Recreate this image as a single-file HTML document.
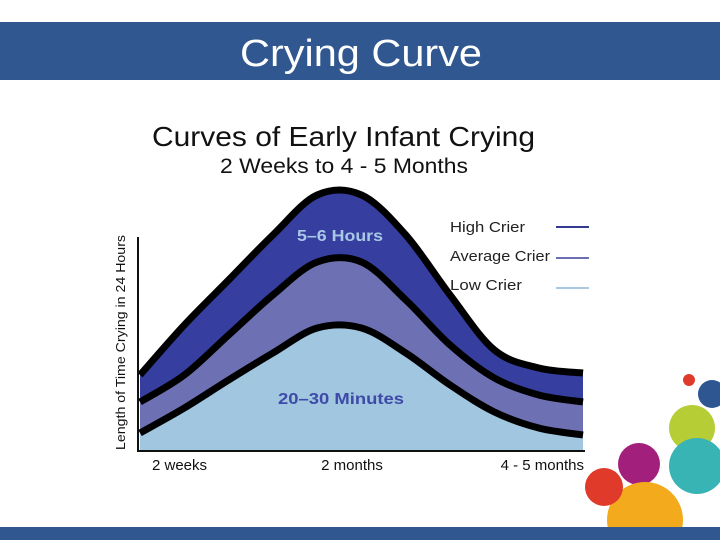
<!DOCTYPE html>
<html><head><meta charset="utf-8"><style>
html,body{margin:0;padding:0;background:#fff;}
svg{display:block;font-family:"Liberation Sans",Arial,sans-serif;}
</style></head><body>
<svg id="chart" width="720" height="540" viewBox="0 0 720 540">
<rect x="0" y="22" width="720" height="58" fill="#30578f"/>
<text x="240" y="66" font-size="38" fill="#fff" textLength="242" lengthAdjust="spacingAndGlyphs">Crying Curve</text>
<text x="152" y="146" font-size="28" fill="#111" textLength="383" lengthAdjust="spacingAndGlyphs">Curves of Early Infant Crying</text>
<text x="220" y="173" font-size="21" fill="#111" textLength="248" lengthAdjust="spacingAndGlyphs">2 Weeks to 4 - 5 Months</text>
<g id="plot"></g>
<line x1="138" y1="237" x2="138" y2="452" stroke="#111" stroke-width="2"/>
<line x1="137" y1="451" x2="585" y2="451" stroke="#111" stroke-width="2"/>
<text transform="translate(125,450) rotate(-90)" font-size="12.5" fill="#111" textLength="215" lengthAdjust="spacingAndGlyphs">Length of Time Crying in 24 Hours</text>
<g id="xticks"></g>
<text x="297" y="241" font-size="16" font-weight="bold" fill="#a9c8e6" textLength="86" lengthAdjust="spacingAndGlyphs">5–6 Hours</text>
<text x="278" y="404" font-size="16" font-weight="bold" fill="#3f4aa8" textLength="126" lengthAdjust="spacingAndGlyphs">20–30 Minutes</text>
<g>
<text x="450" y="232" font-size="15" fill="#222" textLength="75" lengthAdjust="spacingAndGlyphs">High Crier</text>
<line x1="556" y1="227" x2="589" y2="227" stroke="#343a90" stroke-width="2"/>
<text x="450" y="261" font-size="15" fill="#222" textLength="100" lengthAdjust="spacingAndGlyphs">Average Crier</text>
<line x1="556" y1="258" x2="589" y2="258" stroke="#6b70b3" stroke-width="2"/>
<text x="450" y="290" font-size="15" fill="#222" textLength="72" lengthAdjust="spacingAndGlyphs">Low Crier</text>
<line x1="556" y1="288" x2="589" y2="288" stroke="#a9c9e3" stroke-width="2"/>
</g>
<g>
<circle cx="689" cy="380" r="6" fill="#e03a2c"/>
<circle cx="712" cy="394" r="14" fill="#2e5691"/>
<circle cx="692" cy="428" r="23" fill="#b6cd36"/>
<circle cx="697" cy="466" r="28" fill="#38b4b4"/>
<circle cx="639" cy="464" r="21" fill="#a31f7c"/>
<circle cx="645" cy="520" r="38" fill="#f3aa1c"/>
<circle cx="604" cy="487" r="19" fill="#df3a2a"/>
</g>
<rect x="0" y="527" width="720" height="13" fill="#30578f"/>
</svg>
<script>
const categories=[0,1,2,3,4,5,6,7,8,9,10];
const highCrier=[75,125,170,215,255,255,215,155,100,82,77];
const averageCrier=[48,75,115,155,188,188,150,105,72,55,48];
const lowCrier=[17,42,70,97,122,122,97,65,38,22,15];
const xTickLabels=["2 weeks","2 months","4 - 5 months"];
const xTickCats=[0,5,10];

const NS="http://www.w3.org/2000/svg";
function xScale(c){return 140+(c-0)/(10-0)*(583-140);}
function yScale(v){return 450-v;}
function smoothPath(vals){
  const p=categories.map((c,i)=>[xScale(c),yScale(vals[i])]);
  let d="M"+p[0][0]+","+p[0][1];
  for(let i=0;i<p.length-1;i++){
    const p0=p[Math.max(0,i-1)],p1=p[i],p2=p[i+1],p3=p[Math.min(p.length-1,i+2)];
    const c1x=p1[0]+(p2[0]-p0[0])/6,c1y=p1[1]+(p2[1]-p0[1])/6;
    const c2x=p2[0]-(p3[0]-p1[0])/6,c2y=p2[1]-(p3[1]-p1[1])/6;
    d+=" C"+c1x+","+c1y+" "+c2x+","+c2y+" "+p2[0]+","+p2[1];
  }
  return d;
}
const plot=document.getElementById("plot");
const series=[[highCrier,"#363f9f","high-crier"],[averageCrier,"#6d71b3","average-crier"],[lowCrier,"#a0c6e0","low-crier"]];
series.forEach(s=>{
  const line=smoothPath(s[0]);
  const area=document.createElementNS(NS,"path");
  area.setAttribute("d",line+" L"+xScale(10)+","+yScale(0)+" L"+xScale(0)+","+yScale(0)+" Z");
  area.setAttribute("fill",s[1]);
  
  
  plot.appendChild(area);
});
series.forEach(s=>{
  const ln=document.createElementNS(NS,"path");
  ln.setAttribute("d",smoothPath(s[0]));
  ln.setAttribute("fill","none");
  ln.setAttribute("stroke","#000");
  ln.setAttribute("stroke-width","7");
  
  
  plot.appendChild(ln);
});
const xt=document.getElementById("xticks");
xTickLabels.forEach((t,i)=>{
  const el=document.createElementNS(NS,"text");
  const c=xTickCats[i];
  el.setAttribute("x",xScale(c));
  el.setAttribute("y",470);
  el.setAttribute("font-size","15");
  el.setAttribute("fill","#111");
  el.setAttribute("text-anchor",i===0?"start":(i===2?"end":"middle"));
  if(i===0)el.setAttribute("x",152);
  if(i===1)el.setAttribute("x",352);
  if(i===2)el.setAttribute("x",584);
  el.textContent=t;
  
  
  xt.appendChild(el);
});
</script>
</body></html>
